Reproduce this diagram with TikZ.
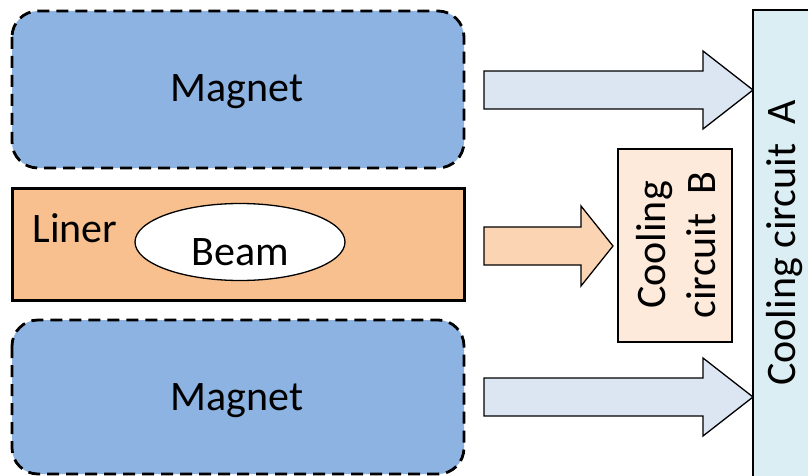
\documentclass[tikz,border=0pt]{standalone}
\usepackage{fontspec}
\setmainfont{Carlito}
\usetikzlibrary{shapes.geometric}

\definecolor{magnetblue}{RGB}{141,179,226}
\definecolor{linerorange}{RGB}{248,192,143}
\definecolor{flowblue}{RGB}{220,230,242}
\definecolor{floworange}{RGB}{251,212,180}
\definecolor{circuitb}{RGB}{253,234,218}
\definecolor{circuita}{RGB}{218,238,243}

\tikzset{
	magnetbox/.style={draw, line width=2.8pt, dash pattern=on 12pt off 7pt, fill=magnetblue, rounded corners=26pt},
	linerbox/.style={draw, line width=3pt, fill=linerorange},
	circuitbox/.style={draw, line width=1.3pt},
	flow/.style={draw, line width=1.3pt, line join=miter},
	label/.style={font=\fontsize{42}{50}\selectfont, align=center}
}

% heat flow arrow: fill, tail x, mid y, head x, tip x, half shaft, half head
\newcommand{\heatflow}[7]{%
	\filldraw[flow, fill=#1] (#2,#3-#6) -- (#4,#3-#6) -- (#4,#3-#7) -- (#5,#3)
		-- (#4,#3+#7) -- (#4,#3+#6) -- (#2,#3+#6) -- cycle;}

\begin{document}
\begin{tikzpicture}[x=1pt, y=-1pt]
	\useasboundingbox (0,0) rectangle (808,476);
	\clip (0,0) rectangle (808,476);

	% magnets and liner
	\draw[magnetbox] (12,11) rectangle (464,168);
	\node[label] (magtop) at (237,92) {Magnet};
	\draw[linerbox] (12,188) rectangle (464,300);
	\node[label, anchor=west] (liner) at (29,228) {Liner};
	\node[draw, ellipse, line width=1.3pt, fill=white, minimum width=210pt, minimum height=77pt, inner sep=0pt] (beam) at (240,242) {};
	\node[label] (beamtext) at (240,252) {Beam};
	\draw[magnetbox] (12,320) rectangle (464,474);
	\node[label] (magbottom) at (237,401) {Magnet};

	% cooling circuits
	\draw[circuitbox, fill=circuitb] (618,149) rectangle (732,342);
	\node[label, rotate=90] (circb) at (676,245) {Cooling\\circuit~~B};
	\draw[circuitbox, fill=circuita] (753,10) rectangle (815,490);
	\node[label, rotate=90] (circa) at (785,243) {Cooling circuit~~A};

	% heat flows
	\heatflow{flowblue}{484}{90}{703}{753}{19}{39}
	\heatflow{floworange}{484}{246}{581}{613}{19}{40}
	\heatflow{flowblue}{484}{397}{703}{753}{19}{39}
\end{tikzpicture}
\end{document}
